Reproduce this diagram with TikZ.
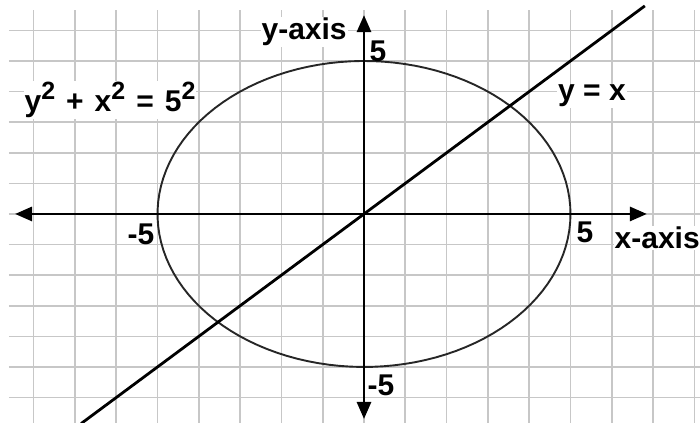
\documentclass[tikz,border=0pt]{standalone}
\usepackage{fontspec}
\setmainfont{Liberation Sans}
\usepackage{tikz}
\usetikzlibrary{arrows.meta}

\newcommand\supr[1]{\raisebox{12pt}{\fontsize{25}{28}\selectfont\bfseries #1}}

\tikzset{
    lbl/.style={font=\fontsize{30}{36}\selectfont\bfseries, inner sep=1pt},
    lblbox/.style={lbl, fill=white},
    gridline/.style={line width=1.6pt, black!22},
}

\begin{document}
\begin{tikzpicture}[x=41.3pt, y=30.6pt, >={Triangle[length=17pt, width=14pt]}]
    \useasboundingbox (-8.814,-6.830) rectangle (8.136,6.993);
    % Lưới ô vuông
    \foreach \i in {-8,...,8}
        \draw[gridline] (\i,-6.83) -- (\i,6.67);
    \foreach \j in {-6,...,6}
        \draw[gridline] (-8.6,\j) -- (8.136,\j);

    % Đường tròn x^2 + y^2 = 25
    \draw[line width=1.9pt, black!85, samples=120, domain=0:360]
        plot ({5*cos(\x)}, {5*sin(\x)});

    % Đường thẳng y = x
    \draw[line width=2.8pt] (-6.85,-6.85) -- (6.8,6.8);

    % Hệ trục tọa độ
    \draw[<->, line width=2.8pt] (-8.45,0) -- (6.85,0);
    \draw[<->, line width=2.8pt] (0,-6.7) -- (0,6.5);

    % Nhãn
    \node[lblbox] (yaxis) at (-1.45,5.95) {y-axis};
    \node[lblbox] (xaxis) at (7.1,-0.78) {x-axis};
    \node[lblbox] (circeq) at (-6.15,3.72)
        {\spaceskip=11pt\relax y\supr{2} + x\supr{2} = 5\supr{2}};
    \node[lblbox] (lineeq) at (5.52,3.86) {y = x};
    \node[lbl] (ytop) at (0.34,5.33) {5};
    \node[lbl] (ybot) at (0.41,-5.6) {-5};
    \node[lbl] (xright) at (5.35,-0.59) {5};
    \node[lbl] (xleft) at (-5.4,-0.65) {-5};
\end{tikzpicture}
\end{document}
